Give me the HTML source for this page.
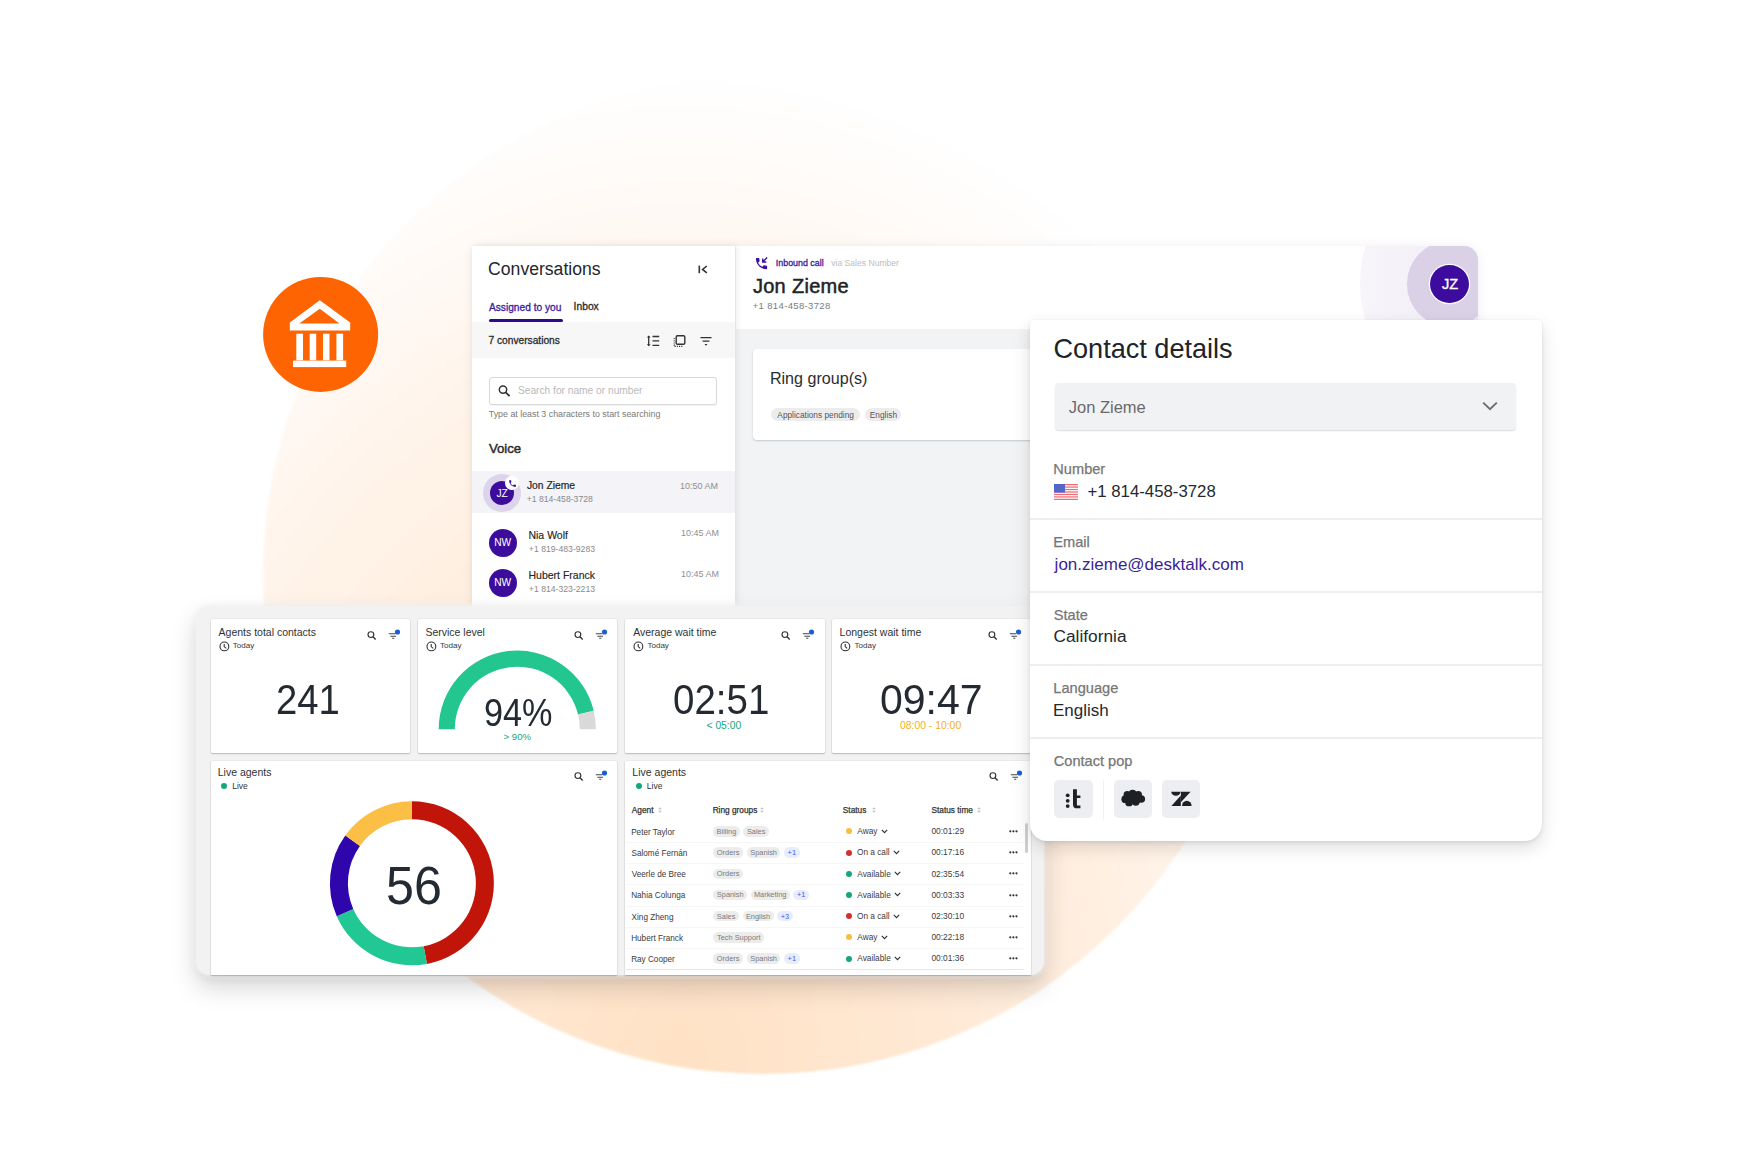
<!DOCTYPE html>
<html><head><meta charset="utf-8"><style>
html,body{margin:0;padding:0;background:#fff;}
body{width:1740px;height:1160px;position:relative;overflow:hidden;font-family:"Liberation Sans",sans-serif;}
.t{position:absolute;line-height:1;white-space:nowrap;}
.b{position:absolute;}
</style></head><body>
<div class="b" style="left:263px;top:74px;width:1000px;height:1000px;border-radius:50%;filter:blur(1.2px);background:radial-gradient(ellipse 75% 100% at 42% 100%,#ffe2c5 0%,#ffe8d3 30%,#ffefe0 56%,#fff5ec 76%,#fffbf8 90%,#ffffff 100%);"></div>
<svg class="b" style="left:0;top:0" width="1740" height="1160" viewBox="0 0 1740 1160"><circle cx="320.6" cy="334.4" r="57.5" fill="#fe6502"/><path fill="#fff" fill-rule="evenodd" d="M289.8 322.6 L319.8 300.3 L350.2 322.6 L350.2 330.5 L289.8 330.5 Z M299.3 323.6 L339.4 323.6 L319.8 308.8 Z"/><rect x="296.3" y="333.7" width="6.7" height="26.6" fill="#fff"/><rect x="309.7" y="333.7" width="6.5" height="26.6" fill="#fff"/><rect x="323.0" y="333.7" width="6.5" height="26.6" fill="#fff"/><rect x="336.4" y="333.7" width="6.7" height="26.6" fill="#fff"/><rect x="293" y="360.6" width="53.2" height="6.5" fill="#fff"/></svg>
<div class="b" style="left:472px;top:246px;width:1006px;height:360px;background:#f2f3f5;box-shadow:0 1px 12px rgba(0,0,0,0.07);border-radius:2px 14px 0 0;"></div>
<div class="b" style="left:736px;top:246px;width:742px;height:83px;background:#fff;border-radius:0 14px 0 0;overflow:hidden;"></div>
<div class="b" style="left:472px;top:246px;width:263px;height:360px;background:#fff;box-shadow:2px 0 6px rgba(0,0,0,0.08);"></div>
<div class="t" style="left:488.12px;top:260.50px;font-size:17.6px;color:#23272b;">Conversations</div>
<svg class="b" style="left:696px;top:263px" width="14" height="13" viewBox="0 0 14 13"><path d="M3.3 2.6 V10.2" stroke="#333" stroke-width="1.6"/><path d="M10.8 3 L6.6 6.4 L10.8 9.8" stroke="#333" stroke-width="1.6" fill="none"/></svg>
<div class="t" style="left:488.95px;top:302.57px;font-size:10.2px;color:#3a1a9e;-webkit-text-stroke:0.3px #3a1a9e;">Assigned to you</div>
<div class="t" style="left:573.57px;top:302.48px;font-size:10.3px;color:#2a2a2a;-webkit-text-stroke:0.3px #2a2a2a;">Inbox</div>
<div class="b" style="left:488.6px;top:319px;width:74.3px;height:3.4px;background:#2e0b8e;border-radius:2px;"></div>
<div class="b" style="left:472px;top:322px;width:263px;height:36px;background:#f7f7f8;"></div>
<div class="t" style="left:488.49px;top:335.67px;font-size:10.2px;color:#2d2d2d;-webkit-text-stroke:0.3px #2d2d2d;">7 conversations</div>
<svg class="b" style="left:645px;top:333px" width="70" height="16" viewBox="0 0 70 16"><path d="M3.7 3 V12.8" stroke="#333" stroke-width="1.3"/><path d="M1.8 4.6 L3.7 2.6 L5.6 4.6 Z M1.8 11.2 L3.7 13.2 L5.6 11.2 Z" fill="#333"/><path d="M7.5 3.5 H14.2 M7.5 7.9 H14.2 M7.5 12.3 H14.2" stroke="#333" stroke-width="1.3"/><rect x="31.2" y="2.7" width="8.6" height="8.6" rx="1.3" fill="none" stroke="#333" stroke-width="1.4"/><path d="M29.2 5 V13.4 H37.6" fill="none" stroke="#333" stroke-width="1.1" stroke-dasharray="1.1 1.1"/><path d="M55.5 4.6 H66.5 M57.6 8.1 H64.4 M59.9 11.6 H62.1" stroke="#333" stroke-width="1.3"/></svg>
<div class="b" style="left:489px;top:377px;width:228px;height:28px;background:#fff;border:1px solid #d8d8d8;border-radius:3px;box-sizing:border-box;box-shadow:0 1px 1px rgba(0,0,0,0.05);"></div>
<svg class="b" style="left:497px;top:384px" width="15" height="14" viewBox="0 0 15 14"><circle cx="6" cy="5.6" r="3.7" fill="none" stroke="#333" stroke-width="1.5"/><path d="M8.7 8.3 L12.6 12.2" stroke="#333" stroke-width="1.8"/></svg>
<div class="t" style="left:517.94px;top:386.37px;font-size:10.2px;color:#b9b9b9;">Search for name or number</div>
<div class="t" style="left:488.78px;top:409.90px;font-size:8.86px;color:#7a7a7a;">Type at least 3 characters to start searching</div>
<div class="t" style="left:488.93px;top:442.33px;font-size:13.2px;color:#2b2b2b;-webkit-text-stroke:0.45px #2b2b2b;">Voice</div>
<div class="b" style="left:472px;top:470.6px;width:263px;height:42.2px;background:#f4f3f8;"></div>
<div class="b" style="left:483px;top:473.5px;width:38px;height:38px;border-radius:50%;background:#dcd4ea;"></div>
<div class="b" style="left:490px;top:480.5px;width:24px;height:24px;border-radius:50%;background:#3c0c9c;"></div>
<div class="t" style="left:496.42px;top:488.57px;font-size:10.2px;color:#fff;">JZ</div>
<div class="b" style="left:505px;top:476px;width:14px;height:14px;border-radius:50%;background:#fff;"></div>
<svg class="b" style="left:507.5px;top:478.5px" width="9" height="9" viewBox="0 0 24 24"><path fill="#3c0c9c" d="M6.62 10.79c1.44 2.83 3.76 5.14 6.59 6.59l2.2-2.2c.27-.27.67-.36 1.02-.24 1.12.37 2.33.57 3.57.57.55 0 1 .45 1 1V20c0 .55-.45 1-1 1-9.39 0-17-7.61-17-17 0-.55.45-1 1-1h3.5c.55 0 1 .45 1 1 0 1.25.2 2.45.57 3.57.11.35.03.74-.25 1.02l-2.2 2.2z"/></svg>
<div class="t" style="left:526.95px;top:481.28px;font-size:10.3px;color:#262626;-webkit-text-stroke:0.2px #262626;">Jon Zieme</div>
<div class="t" style="left:526.67px;top:494.86px;font-size:8.67px;color:#8a8a8a;">+1 814-458-3728</div>
<div class="t" style="left:680.02px;top:481.90px;font-size:8.98px;color:#8f8f8f;">10:50 AM</div>
<div class="b" style="left:489px;top:529px;width:28px;height:28px;border-radius:50%;background:#3c0c9c;"></div>
<div class="t" style="left:494.13px;top:538.17px;font-size:10.2px;color:#fff;">NW</div>
<div class="t" style="left:528.46px;top:530.21px;font-size:10.5px;color:#262626;-webkit-text-stroke:0.15px #262626;">Nia Wolf</div>
<div class="t" style="left:528.87px;top:544.56px;font-size:8.67px;color:#8a8a8a;">+1 819-483-9283</div>
<div class="t" style="left:681.12px;top:529.40px;font-size:8.98px;color:#8f8f8f;">10:45 AM</div>
<div class="b" style="left:489px;top:569px;width:28px;height:28px;border-radius:50%;background:#3c0c9c;"></div>
<div class="t" style="left:494.13px;top:578.17px;font-size:10.2px;color:#fff;">NW</div>
<div class="t" style="left:528.46px;top:570.31px;font-size:10.5px;color:#262626;-webkit-text-stroke:0.15px #262626;">Hubert Franck</div>
<div class="t" style="left:528.87px;top:584.66px;font-size:8.67px;color:#8a8a8a;">+1 814-323-2213</div>
<div class="t" style="left:681.12px;top:569.50px;font-size:8.98px;color:#8f8f8f;">10:45 AM</div>
<svg class="b" style="left:754px;top:256px" width="15" height="15" viewBox="0 0 24 24"><path fill="#3b12a0" d="M6.62 10.79c1.44 2.83 3.76 5.14 6.59 6.59l2.2-2.2c.27-.27.67-.36 1.02-.24 1.12.37 2.33.57 3.57.57.55 0 1 .45 1 1V20c0 .55-.45 1-1 1-9.39 0-17-7.61-17-17 0-.55.45-1 1-1h3.5c.55 0 1 .45 1 1 0 1.25.2 2.45.57 3.57.11.35.03.74-.25 1.02l-2.2 2.2z"/><path d="M21 2.5 L14.6 8.9 M14 3.8 V9.6 H19.8" stroke="#3b12a0" stroke-width="2.2" fill="none"/></svg>
<div class="t" style="left:775.80px;top:259.17px;font-size:8.9px;color:#3b1aa0;-webkit-text-stroke:0.3px #3b1aa0;">Inbound call</div>
<div class="t" style="left:831.26px;top:259.44px;font-size:8.58px;color:#bdbdbd;">via Sales Number</div>
<div class="t" style="left:752.90px;top:275.97px;font-size:20px;color:#1f2326;-webkit-text-stroke:0.5px #1f2326;letter-spacing:0.3px;">Jon Zieme</div>
<div class="t" style="left:752.73px;top:301.46px;font-size:9.5px;color:#7c7c7c;letter-spacing:0.35px;">+1 814-458-3728</div>
<div class="b" style="left:1340px;top:246px;width:138px;height:83px;overflow:hidden;border-radius:0 14px 0 0;"><div style="position:absolute;left:20px;top:-95px;width:264px;height:264px;border-radius:50%;background:linear-gradient(90deg,#f7f5fa,#f1ecf7 40%);"></div><div style="position:absolute;left:67.1px;top:-4.7px;width:85.4px;height:85.4px;border-radius:50%;background:#dad1e7;"></div></div>
<div class="b" style="left:1430.3px;top:264.6px;width:38.8px;height:38px;border-radius:50%;background:#3d0c9f;box-shadow:0 0 0 1.2px #fff;"></div>
<div class="t" style="left:1442.01px;top:277.24px;font-size:14.6px;color:#fff;-webkit-text-stroke:0.35px #fff;">JZ</div>
<div class="b" style="left:752.8px;top:348.5px;width:290px;height:91.8px;background:#fff;border-radius:4px;box-shadow:0 1px 2px rgba(0,0,0,0.18);"></div>
<div class="t" style="left:769.91px;top:370.47px;font-size:16.1px;color:#2a2d30;">Ring group(s)</div>
<div class="b" style="left:770.6px;top:408.2px;width:89.1px;height:13.3px;background:#ececec;border-radius:7px;"></div>
<div class="t" style="left:777.36px;top:410.57px;font-size:8.3px;color:#555;">Applications pending</div>
<div class="b" style="left:864.7px;top:408.2px;width:36px;height:13.3px;background:#ececec;border-radius:7px;"></div>
<div class="t" style="left:869.84px;top:410.57px;font-size:8.3px;color:#555;">English</div>
<div class="b" style="left:196px;top:606px;width:848px;height:369px;background:#f2f2f3;border-radius:14px;box-shadow:0 0 6px 1px #f3f3f4, 0 12px 26px rgba(0,0,0,0.17), 0 4px 8px rgba(0,0,0,0.07);"></div>
<div class="b" style="left:210.6px;top:619.3px;width:199.5px;height:134px;background:#fff;border-radius:1.5px;box-shadow:0 1px 1.5px rgba(0,0,0,0.22), 0 0 0 0.6px rgba(0,0,0,0.06);"></div>
<div class="b" style="left:417.9px;top:619.3px;width:199.5px;height:134px;background:#fff;border-radius:1.5px;box-shadow:0 1px 1.5px rgba(0,0,0,0.22), 0 0 0 0.6px rgba(0,0,0,0.06);"></div>
<div class="b" style="left:625.2px;top:619.3px;width:199.5px;height:134px;background:#fff;border-radius:1.5px;box-shadow:0 1px 1.5px rgba(0,0,0,0.22), 0 0 0 0.6px rgba(0,0,0,0.06);"></div>
<div class="b" style="left:832.4px;top:619.3px;width:199.5px;height:134px;background:#fff;border-radius:1.5px;box-shadow:0 1px 1.5px rgba(0,0,0,0.22), 0 0 0 0.6px rgba(0,0,0,0.06);"></div>
<div class="t" style="left:218.55px;top:626.71px;font-size:10.5px;color:#2e3236;">Agents total contacts</div>
<svg class="b" style="left:218.6px;top:640.9px" width="11" height="11" viewBox="0 0 11 11"><circle cx="5.4" cy="5.4" r="4.4" fill="none" stroke="#333" stroke-width="1.1"/><path d="M5.2 2.9 V5.6 L7.2 7.3" fill="none" stroke="#333" stroke-width="1.1"/></svg>
<div class="t" style="left:232.80px;top:642.17px;font-size:8.07px;color:#3a3a3a;">Today</div>
<svg class="b" style="left:360.6px;top:624.3px" width="42" height="20" viewBox="0 0 42 20"><circle cx="9.9" cy="10.6" r="2.9" fill="none" stroke="#333" stroke-width="1.15"/><path d="M12 12.7 L14.7 15.4" stroke="#333" stroke-width="1.4"/><path d="M27.8 9.7 H34.2 M29.4 12.2 H35 M31.2 14.3 H33.3" stroke="#444" stroke-width="1.1"/><circle cx="36.5" cy="8" r="2.6" fill="#1a5fd6"/></svg>
<div class="t" style="left:425.43px;top:626.71px;font-size:10.5px;color:#2e3236;">Service level</div>
<svg class="b" style="left:425.9px;top:640.9px" width="11" height="11" viewBox="0 0 11 11"><circle cx="5.4" cy="5.4" r="4.4" fill="none" stroke="#333" stroke-width="1.1"/><path d="M5.2 2.9 V5.6 L7.2 7.3" fill="none" stroke="#333" stroke-width="1.1"/></svg>
<div class="t" style="left:440.10px;top:642.17px;font-size:8.07px;color:#3a3a3a;">Today</div>
<svg class="b" style="left:567.9px;top:624.3px" width="42" height="20" viewBox="0 0 42 20"><circle cx="9.9" cy="10.6" r="2.9" fill="none" stroke="#333" stroke-width="1.15"/><path d="M12 12.7 L14.7 15.4" stroke="#333" stroke-width="1.4"/><path d="M27.8 9.7 H34.2 M29.4 12.2 H35 M31.2 14.3 H33.3" stroke="#444" stroke-width="1.1"/><circle cx="36.5" cy="8" r="2.6" fill="#1a5fd6"/></svg>
<div class="t" style="left:633.15px;top:626.71px;font-size:10.5px;color:#2e3236;">Average wait time</div>
<svg class="b" style="left:633.2px;top:640.9px" width="11" height="11" viewBox="0 0 11 11"><circle cx="5.4" cy="5.4" r="4.4" fill="none" stroke="#333" stroke-width="1.1"/><path d="M5.2 2.9 V5.6 L7.2 7.3" fill="none" stroke="#333" stroke-width="1.1"/></svg>
<div class="t" style="left:647.40px;top:642.17px;font-size:8.07px;color:#3a3a3a;">Today</div>
<svg class="b" style="left:775.2px;top:624.3px" width="42" height="20" viewBox="0 0 42 20"><circle cx="9.9" cy="10.6" r="2.9" fill="none" stroke="#333" stroke-width="1.15"/><path d="M12 12.7 L14.7 15.4" stroke="#333" stroke-width="1.4"/><path d="M27.8 9.7 H34.2 M29.4 12.2 H35 M31.2 14.3 H33.3" stroke="#444" stroke-width="1.1"/><circle cx="36.5" cy="8" r="2.6" fill="#1a5fd6"/></svg>
<div class="t" style="left:839.56px;top:626.71px;font-size:10.5px;color:#2e3236;">Longest wait time</div>
<svg class="b" style="left:840.4px;top:640.9px" width="11" height="11" viewBox="0 0 11 11"><circle cx="5.4" cy="5.4" r="4.4" fill="none" stroke="#333" stroke-width="1.1"/><path d="M5.2 2.9 V5.6 L7.2 7.3" fill="none" stroke="#333" stroke-width="1.1"/></svg>
<div class="t" style="left:854.60px;top:642.17px;font-size:8.07px;color:#3a3a3a;">Today</div>
<svg class="b" style="left:982.4px;top:624.3px" width="42" height="20" viewBox="0 0 42 20"><circle cx="9.9" cy="10.6" r="2.9" fill="none" stroke="#333" stroke-width="1.15"/><path d="M12 12.7 L14.7 15.4" stroke="#333" stroke-width="1.4"/><path d="M27.8 9.7 H34.2 M29.4 12.2 H35 M31.2 14.3 H33.3" stroke="#444" stroke-width="1.1"/><circle cx="36.5" cy="8" r="2.6" fill="#1a5fd6"/></svg>
<div class="t" style="left:275.54px;top:678.40px;font-size:43px;color:#232a31;transform:scaleX(0.89);transform-origin:0 0;">241</div>
<svg class="b" style="left:418px;top:619px" width="200" height="134" viewBox="418 619 200 134"><path d="M438.7 729.2 A78.6 78.6 0 0 1 593.7 710.7 L578.05 714.5 A62.5 62.5 0 0 0 454.8 729.2 Z" fill="#23c68e"/><path d="M593.7 710.7 A78.6 78.6 0 0 1 595.9 729.2 L579.8 729.2 A62.5 62.5 0 0 0 578.05 714.5 Z" fill="#d9d9d9"/></svg>
<div class="t" style="left:483.83px;top:694.03px;font-size:38px;color:#232a31;transform:scaleX(0.9);transform-origin:0 0;">94%</div>
<div class="t" style="left:503.58px;top:732.47px;font-size:9.6px;color:#17a57a;">&gt; 90%</div>
<div class="t" style="left:673.29px;top:678.40px;font-size:43px;color:#232a31;transform:scaleX(0.895);transform-origin:0 0;">02:51</div>
<div class="t" style="left:706.52px;top:721.08px;font-size:10.3px;color:#17a57a;">&lt; 05:00</div>
<div class="t" style="left:880.18px;top:678.30px;font-size:43px;color:#232a31;transform:scaleX(0.953);transform-origin:0 0;">09:47</div>
<div class="t" style="left:899.95px;top:720.80px;font-size:10.4px;color:#f4b026;">08:00 - 10:00</div>
<div class="b" style="left:210.6px;top:760.6px;width:406.8px;height:214.1px;background:#fff;border-radius:1.5px;box-shadow:0 1px 1.5px rgba(0,0,0,0.22), 0 0 0 0.6px rgba(0,0,0,0.06);border-radius:1.5px 1.5px 0 0;"></div>
<div class="b" style="left:625.2px;top:760.6px;width:406px;height:214.1px;background:#fff;border-radius:1.5px;box-shadow:0 1px 1.5px rgba(0,0,0,0.22), 0 0 0 0.6px rgba(0,0,0,0.06);border-radius:1.5px 1.5px 0 0;"></div>
<div class="t" style="left:217.76px;top:766.81px;font-size:10.5px;color:#2e3236;">Live agents</div>
<div class="b" style="left:221.1px;top:782.8px;width:6.2px;height:6.2px;border-radius:50%;background:#12a87a;"></div>
<div class="t" style="left:232.22px;top:782.10px;font-size:8.5px;color:#333;">Live</div>
<svg class="b" style="left:567.9px;top:764.6px" width="42" height="20" viewBox="0 0 42 20"><circle cx="9.9" cy="10.6" r="2.9" fill="none" stroke="#333" stroke-width="1.15"/><path d="M12 12.7 L14.7 15.4" stroke="#333" stroke-width="1.4"/><path d="M27.8 9.7 H34.2 M29.4 12.2 H35 M31.2 14.3 H33.3" stroke="#444" stroke-width="1.1"/><circle cx="36.5" cy="8" r="2.6" fill="#1a5fd6"/></svg>
<div class="t" style="left:632.36px;top:766.81px;font-size:10.5px;color:#2e3236;">Live agents</div>
<div class="b" style="left:635.7px;top:782.8px;width:6.2px;height:6.2px;border-radius:50%;background:#12a87a;"></div>
<div class="t" style="left:646.82px;top:782.10px;font-size:8.5px;color:#333;">Live</div>
<svg class="b" style="left:982.5px;top:764.6px" width="42" height="20" viewBox="0 0 42 20"><circle cx="9.9" cy="10.6" r="2.9" fill="none" stroke="#333" stroke-width="1.15"/><path d="M12 12.7 L14.7 15.4" stroke="#333" stroke-width="1.4"/><path d="M27.8 9.7 H34.2 M29.4 12.2 H35 M31.2 14.3 H33.3" stroke="#444" stroke-width="1.1"/><circle cx="36.5" cy="8" r="2.6" fill="#1a5fd6"/></svg>
<svg class="b" style="left:0;top:0" width="1740" height="1160" viewBox="0 0 1740 1160"><path d="M411.90 801.30 A82 82 0 0 1 426.98 963.90 L423.67 946.21 A64 64 0 0 0 411.90 819.30 Z" fill="#c21509"/><path d="M426.98 963.90 A82 82 0 0 1 336.76 916.13 L353.25 908.92 A64 64 0 0 0 423.67 946.21 Z" fill="#22c894"/><path d="M336.76 916.13 A82 82 0 0 1 345.31 835.45 L359.93 845.95 A64 64 0 0 0 353.25 908.92 Z" fill="#2e06ab"/><path d="M345.31 835.45 A82 82 0 0 1 411.90 801.30 L411.90 819.30 A64 64 0 0 0 359.93 845.95 Z" fill="#fbbf45"/></svg>
<div class="t" style="left:386.05px;top:858.29px;font-size:54px;color:#232a31;transform:scaleX(0.93);transform-origin:0 0;">56</div>
<div class="t" style="left:631.76px;top:806.07px;font-size:8.3px;color:#333;-webkit-text-stroke:0.25px #333;">Agent</div>
<div class="t" style="left:712.64px;top:806.07px;font-size:8.3px;color:#333;-webkit-text-stroke:0.25px #333;">Ring groups</div>
<div class="t" style="left:842.83px;top:806.07px;font-size:8.3px;color:#333;-webkit-text-stroke:0.25px #333;">Status</div>
<div class="t" style="left:931.43px;top:806.07px;font-size:8.3px;color:#333;-webkit-text-stroke:0.25px #333;">Status time</div>
<svg class="b" style="left:657px;top:806px" width="6" height="8" viewBox="0 0 6 8"><path d="M1 3.2 L3 1.2 L5 3.2 Z M1 4.8 L3 6.8 L5 4.8 Z" fill="#c4c4c4"/></svg>
<svg class="b" style="left:758.5px;top:806px" width="6" height="8" viewBox="0 0 6 8"><path d="M1 3.2 L3 1.2 L5 3.2 Z M1 4.8 L3 6.8 L5 4.8 Z" fill="#c4c4c4"/></svg>
<svg class="b" style="left:870.5px;top:806px" width="6" height="8" viewBox="0 0 6 8"><path d="M1 3.2 L3 1.2 L5 3.2 Z M1 4.8 L3 6.8 L5 4.8 Z" fill="#c4c4c4"/></svg>
<svg class="b" style="left:975.5px;top:806px" width="6" height="8" viewBox="0 0 6 8"><path d="M1 3.2 L3 1.2 L5 3.2 Z M1 4.8 L3 6.8 L5 4.8 Z" fill="#c4c4c4"/></svg>
<div class="t" style="left:631.14px;top:828.76px;font-size:8.2px;color:#3a3a3a;">Peter Taylor</div>
<div class="b" style="left:713.3px;top:826.1999999999999px;width:26.4px;height:10.4px;background:#ececec;border-radius:5.2px;"></div>
<div class="t" style="left:716.61px;top:827.84px;font-size:7.4px;color:#7a7a7a;">Billing</div>
<div class="b" style="left:743.348px;top:826.1999999999999px;width:25.7px;height:10.4px;background:#ececec;border-radius:5.2px;"></div>
<div class="t" style="left:746.91px;top:827.84px;font-size:7.4px;color:#7a7a7a;">Sales</div>
<div class="b" style="left:845.9px;top:828.4px;width:6px;height:6px;border-radius:50%;background:#f6bf3e;"></div>
<div class="t" style="left:857.26px;top:827.27px;font-size:8.3px;color:#3c3c3c;">Away</div>
<svg class="b" style="left:880.8px;top:828.8px" width="7" height="5" viewBox="0 0 7 5"><path d="M0.8 0.8 L3.5 3.6 L6.2 0.8" fill="none" stroke="#333" stroke-width="1.2"/></svg>
<div class="t" style="left:931.46px;top:827.19px;font-size:8.4px;color:#3c3c3c;">00:01:29</div>
<svg class="b" style="left:1009px;top:829.9px" width="9" height="3" viewBox="0 0 9 3"><circle cx="1.3" cy="1.3" r="1.1" fill="#333"/><circle cx="4.4" cy="1.3" r="1.1" fill="#333"/><circle cx="7.5" cy="1.3" r="1.1" fill="#333"/></svg>
<div class="b" style="left:626px;top:842.0px;width:398px;height:1px;background:#f6f6f7;"></div>
<div class="t" style="left:631.43px;top:849.96px;font-size:8.2px;color:#3a3a3a;">Salomé Fernán</div>
<div class="b" style="left:713.3px;top:847.4px;width:29.8px;height:10.4px;background:#ececec;border-radius:5.2px;"></div>
<div class="t" style="left:716.87px;top:849.04px;font-size:7.4px;color:#7a7a7a;">Orders</div>
<div class="b" style="left:746.7149999999999px;top:847.4px;width:33.7px;height:10.4px;background:#ececec;border-radius:5.2px;"></div>
<div class="t" style="left:750.28px;top:849.04px;font-size:7.4px;color:#7a7a7a;">Spanish</div>
<div class="b" style="left:784.0519999999999px;top:847.4px;width:15.5px;height:10.4px;background:#e9ecfb;border-radius:5.2px;"></div>
<div class="t" style="left:787.58px;top:849.04px;font-size:7.4px;color:#3d5ae8;">+1</div>
<div class="b" style="left:845.9px;top:849.6px;width:6px;height:6px;border-radius:50%;background:#d3302f;"></div>
<div class="t" style="left:856.93px;top:848.47px;font-size:8.3px;color:#3c3c3c;">On a call</div>
<svg class="b" style="left:892.6px;top:850.0px" width="7" height="5" viewBox="0 0 7 5"><path d="M0.8 0.8 L3.5 3.6 L6.2 0.8" fill="none" stroke="#333" stroke-width="1.2"/></svg>
<div class="t" style="left:931.46px;top:848.39px;font-size:8.4px;color:#3c3c3c;">00:17:16</div>
<svg class="b" style="left:1009px;top:851.1px" width="9" height="3" viewBox="0 0 9 3"><circle cx="1.3" cy="1.3" r="1.1" fill="#333"/><circle cx="4.4" cy="1.3" r="1.1" fill="#333"/><circle cx="7.5" cy="1.3" r="1.1" fill="#333"/></svg>
<div class="b" style="left:626px;top:863.1999999999999px;width:398px;height:1px;background:#f6f6f7;"></div>
<div class="t" style="left:631.76px;top:871.16px;font-size:8.2px;color:#3a3a3a;">Veerle de Bree</div>
<div class="b" style="left:713.3px;top:868.5999999999999px;width:29.8px;height:10.4px;background:#ececec;border-radius:5.2px;"></div>
<div class="t" style="left:716.87px;top:870.24px;font-size:7.4px;color:#7a7a7a;">Orders</div>
<div class="b" style="left:845.9px;top:870.8px;width:6px;height:6px;border-radius:50%;background:#12a87a;"></div>
<div class="t" style="left:857.26px;top:869.67px;font-size:8.3px;color:#3c3c3c;">Available</div>
<svg class="b" style="left:893.9px;top:871.2px" width="7" height="5" viewBox="0 0 7 5"><path d="M0.8 0.8 L3.5 3.6 L6.2 0.8" fill="none" stroke="#333" stroke-width="1.2"/></svg>
<div class="t" style="left:931.46px;top:869.59px;font-size:8.4px;color:#3c3c3c;">02:35:54</div>
<svg class="b" style="left:1009px;top:872.3px" width="9" height="3" viewBox="0 0 9 3"><circle cx="1.3" cy="1.3" r="1.1" fill="#333"/><circle cx="4.4" cy="1.3" r="1.1" fill="#333"/><circle cx="7.5" cy="1.3" r="1.1" fill="#333"/></svg>
<div class="b" style="left:626px;top:884.4px;width:398px;height:1px;background:#f6f6f7;"></div>
<div class="t" style="left:631.14px;top:892.36px;font-size:8.2px;color:#3a3a3a;">Nahia Colunga</div>
<div class="b" style="left:713.3px;top:889.8px;width:33.7px;height:10.4px;background:#ececec;border-radius:5.2px;"></div>
<div class="t" style="left:716.87px;top:891.44px;font-size:7.4px;color:#7a7a7a;">Spanish</div>
<div class="b" style="left:750.637px;top:889.8px;width:39.2px;height:10.4px;background:#ececec;border-radius:5.2px;"></div>
<div class="t" style="left:753.94px;top:891.44px;font-size:7.4px;color:#7a7a7a;">Marketing</div>
<div class="b" style="left:793.4499999999999px;top:889.8px;width:15.5px;height:10.4px;background:#e9ecfb;border-radius:5.2px;"></div>
<div class="t" style="left:796.98px;top:891.44px;font-size:7.4px;color:#3d5ae8;">+1</div>
<div class="b" style="left:845.9px;top:892.0px;width:6px;height:6px;border-radius:50%;background:#12a87a;"></div>
<div class="t" style="left:857.26px;top:890.87px;font-size:8.3px;color:#3c3c3c;">Available</div>
<svg class="b" style="left:893.9px;top:892.4px" width="7" height="5" viewBox="0 0 7 5"><path d="M0.8 0.8 L3.5 3.6 L6.2 0.8" fill="none" stroke="#333" stroke-width="1.2"/></svg>
<div class="t" style="left:931.46px;top:890.79px;font-size:8.4px;color:#3c3c3c;">00:03:33</div>
<svg class="b" style="left:1009px;top:893.5px" width="9" height="3" viewBox="0 0 9 3"><circle cx="1.3" cy="1.3" r="1.1" fill="#333"/><circle cx="4.4" cy="1.3" r="1.1" fill="#333"/><circle cx="7.5" cy="1.3" r="1.1" fill="#333"/></svg>
<div class="b" style="left:626px;top:905.5999999999999px;width:398px;height:1px;background:#f6f6f7;"></div>
<div class="t" style="left:631.59px;top:913.56px;font-size:8.2px;color:#3a3a3a;">Xing Zheng</div>
<div class="b" style="left:713.3px;top:910.9999999999999px;width:25.7px;height:10.4px;background:#ececec;border-radius:5.2px;"></div>
<div class="t" style="left:716.87px;top:912.64px;font-size:7.4px;color:#7a7a7a;">Sales</div>
<div class="b" style="left:742.608px;top:910.9999999999999px;width:31.0px;height:10.4px;background:#ececec;border-radius:5.2px;"></div>
<div class="t" style="left:745.92px;top:912.64px;font-size:7.4px;color:#7a7a7a;">English</div>
<div class="b" style="left:777.207px;top:910.9999999999999px;width:15.5px;height:10.4px;background:#e9ecfb;border-radius:5.2px;"></div>
<div class="t" style="left:780.74px;top:912.64px;font-size:7.4px;color:#3d5ae8;">+3</div>
<div class="b" style="left:845.9px;top:913.1999999999999px;width:6px;height:6px;border-radius:50%;background:#d3302f;"></div>
<div class="t" style="left:856.93px;top:912.07px;font-size:8.3px;color:#3c3c3c;">On a call</div>
<svg class="b" style="left:892.6px;top:913.6px" width="7" height="5" viewBox="0 0 7 5"><path d="M0.8 0.8 L3.5 3.6 L6.2 0.8" fill="none" stroke="#333" stroke-width="1.2"/></svg>
<div class="t" style="left:931.46px;top:911.99px;font-size:8.4px;color:#3c3c3c;">02:30:10</div>
<svg class="b" style="left:1009px;top:914.7px" width="9" height="3" viewBox="0 0 9 3"><circle cx="1.3" cy="1.3" r="1.1" fill="#333"/><circle cx="4.4" cy="1.3" r="1.1" fill="#333"/><circle cx="7.5" cy="1.3" r="1.1" fill="#333"/></svg>
<div class="b" style="left:626px;top:926.8px;width:398px;height:1px;background:#f6f6f7;"></div>
<div class="t" style="left:631.14px;top:934.76px;font-size:8.2px;color:#3a3a3a;">Hubert Franck</div>
<div class="b" style="left:713.3px;top:932.1999999999999px;width:51.2px;height:10.4px;background:#ececec;border-radius:5.2px;"></div>
<div class="t" style="left:717.01px;top:933.84px;font-size:7.4px;color:#7a7a7a;">Tech Support</div>
<div class="b" style="left:845.9px;top:934.4px;width:6px;height:6px;border-radius:50%;background:#f6bf3e;"></div>
<div class="t" style="left:857.26px;top:933.27px;font-size:8.3px;color:#3c3c3c;">Away</div>
<svg class="b" style="left:880.8px;top:934.8px" width="7" height="5" viewBox="0 0 7 5"><path d="M0.8 0.8 L3.5 3.6 L6.2 0.8" fill="none" stroke="#333" stroke-width="1.2"/></svg>
<div class="t" style="left:931.46px;top:933.19px;font-size:8.4px;color:#3c3c3c;">00:22:18</div>
<svg class="b" style="left:1009px;top:935.9px" width="9" height="3" viewBox="0 0 9 3"><circle cx="1.3" cy="1.3" r="1.1" fill="#333"/><circle cx="4.4" cy="1.3" r="1.1" fill="#333"/><circle cx="7.5" cy="1.3" r="1.1" fill="#333"/></svg>
<div class="b" style="left:626px;top:947.9999999999999px;width:398px;height:1px;background:#f6f6f7;"></div>
<div class="t" style="left:631.14px;top:955.96px;font-size:8.2px;color:#3a3a3a;">Ray Cooper</div>
<div class="b" style="left:713.3px;top:953.3999999999999px;width:29.8px;height:10.4px;background:#ececec;border-radius:5.2px;"></div>
<div class="t" style="left:716.87px;top:955.04px;font-size:7.4px;color:#7a7a7a;">Orders</div>
<div class="b" style="left:746.7149999999999px;top:953.3999999999999px;width:33.7px;height:10.4px;background:#ececec;border-radius:5.2px;"></div>
<div class="t" style="left:750.28px;top:955.04px;font-size:7.4px;color:#7a7a7a;">Spanish</div>
<div class="b" style="left:784.0519999999999px;top:953.3999999999999px;width:15.5px;height:10.4px;background:#e9ecfb;border-radius:5.2px;"></div>
<div class="t" style="left:787.58px;top:955.04px;font-size:7.4px;color:#3d5ae8;">+1</div>
<div class="b" style="left:845.9px;top:955.5999999999999px;width:6px;height:6px;border-radius:50%;background:#12a87a;"></div>
<div class="t" style="left:857.26px;top:954.47px;font-size:8.3px;color:#3c3c3c;">Available</div>
<svg class="b" style="left:893.9px;top:956.0px" width="7" height="5" viewBox="0 0 7 5"><path d="M0.8 0.8 L3.5 3.6 L6.2 0.8" fill="none" stroke="#333" stroke-width="1.2"/></svg>
<div class="t" style="left:931.46px;top:954.39px;font-size:8.4px;color:#3c3c3c;">00:01:36</div>
<svg class="b" style="left:1009px;top:957.1px" width="9" height="3" viewBox="0 0 9 3"><circle cx="1.3" cy="1.3" r="1.1" fill="#333"/><circle cx="4.4" cy="1.3" r="1.1" fill="#333"/><circle cx="7.5" cy="1.3" r="1.1" fill="#333"/></svg>
<div class="b" style="left:626px;top:969px;width:398px;height:1px;background:#e6e6e6;"></div>
<div class="b" style="left:1024.6px;top:822.7px;width:3.4px;height:30px;background:#cfcfcf;border-radius:2px;"></div>
<div class="b" style="left:1030px;top:319.5px;width:512px;height:521.5px;background:#fff;border-radius:4px 4px 17px 17px;box-shadow:0 7px 18px rgba(0,0,0,0.13), 0 2px 4px rgba(0,0,0,0.07), 0 0 3px rgba(0,0,0,0.04);"></div>
<div class="t" style="left:1053.44px;top:335.36px;font-size:27.1px;color:#202428;">Contact details</div>
<div class="b" style="left:1054.5px;top:383px;width:461.5px;height:47px;background:#f1f2f4;border-radius:4px;box-shadow:0 1px 1.5px rgba(0,0,0,0.14);"></div>
<div class="t" style="left:1068.75px;top:398.83px;font-size:16.5px;color:#6a6a6a;">Jon Zieme</div>
<svg class="b" style="left:1481px;top:400px" width="18" height="13" viewBox="0 0 18 13"><path d="M2.2 2.6 L9 9.2 L15.8 2.6" fill="none" stroke="#6f6f6f" stroke-width="2"/></svg>
<div class="t" style="left:1053.33px;top:462.44px;font-size:14.6px;color:#767676;-webkit-text-stroke:0.25px #767676;">Number</div>
<div class="t" style="left:1053.33px;top:535.24px;font-size:14.6px;color:#767676;-webkit-text-stroke:0.25px #767676;">Email</div>
<div class="t" style="left:1053.84px;top:608.44px;font-size:14.6px;color:#767676;-webkit-text-stroke:0.25px #767676;">State</div>
<div class="t" style="left:1053.33px;top:680.94px;font-size:14.6px;color:#767676;-webkit-text-stroke:0.25px #767676;">Language</div>
<div class="t" style="left:1053.77px;top:753.84px;font-size:14.6px;color:#767676;-webkit-text-stroke:0.25px #767676;">Contact pop</div>
<div class="b" style="left:1030px;top:517.6px;width:512px;height:2px;background:#eeeeee;"></div>
<div class="b" style="left:1030px;top:590.7px;width:512px;height:2px;background:#eeeeee;"></div>
<div class="b" style="left:1030px;top:663.7px;width:512px;height:2px;background:#eeeeee;"></div>
<div class="b" style="left:1030px;top:737px;width:512px;height:2px;background:#eeeeee;"></div>
<svg class="b" style="left:1054.2px;top:483.9px" width="24" height="16" viewBox="0 0 24 16"><rect width="24" height="16" fill="#fff"/><rect y="0.000" width="24" height="1.231" fill="#ee6c74"/><rect y="2.462" width="24" height="1.231" fill="#ee6c74"/><rect y="4.923" width="24" height="1.231" fill="#ee6c74"/><rect y="7.385" width="24" height="1.231" fill="#ee6c74"/><rect y="9.846" width="24" height="1.231" fill="#ee6c74"/><rect y="12.308" width="24" height="1.231" fill="#ee6c74"/><rect y="14.769" width="24" height="1.231" fill="#ee6c74"/><rect width="11" height="8.6" fill="#5566c8"/></svg>
<div class="t" style="left:1087.46px;top:483.68px;font-size:16.8px;color:#25292d;">+1 814-458-3728</div>
<div class="t" style="left:1054.62px;top:555.91px;font-size:17.0px;color:#3a1f96;">jon.zieme@desktalk.com</div>
<div class="t" style="left:1053.54px;top:628.36px;font-size:17.3px;color:#25292d;">California</div>
<div class="t" style="left:1053.04px;top:701.91px;font-size:17.0px;color:#25292d;">English</div>
<div class="b" style="left:1054.3px;top:780.3px;width:38.5px;height:37.5px;background:#eceef1;border-radius:5px;"></div>
<div class="b" style="left:1113.9px;top:780.3px;width:38.5px;height:37.5px;background:#eceef1;border-radius:5px;"></div>
<div class="b" style="left:1161.8px;top:780.3px;width:38.5px;height:37.5px;background:#eceef1;border-radius:5px;"></div>
<div class="b" style="left:1103.2px;top:780px;width:1px;height:40px;background:#eef0f2;"></div>
<svg class="b" style="left:1054.3px;top:780.3px" width="38.5" height="37.5" viewBox="0 0 38.5 37.5"><circle cx="13.7" cy="15.3" r="1.9" fill="#1d2125"/><circle cx="13.7" cy="20.8" r="1.9" fill="#1d2125"/><circle cx="13.7" cy="26.1" r="1.9" fill="#1d2125"/><path d="M19 9.2 H22.9 V15.6 H26.4 V18 H22.9 V24.4 C22.9 25.2 23.3 25.6 24.1 25.6 H26.4 V28.3 H23.2 C20.4 28.3 19 27 19 24.4 Z" fill="#1d2125"/></svg>
<svg class="b" style="left:1113.9px;top:780.3px" width="38.5" height="37.5" viewBox="0 0 38.5 37.5"><g fill="#1d2125"><circle cx="13.2" cy="14.6" r="3.6"/><circle cx="18.6" cy="13.6" r="3.9"/><circle cx="24.2" cy="14.9" r="3.8"/><circle cx="27.3" cy="19" r="3.8"/><circle cx="21.8" cy="21.6" r="4.2"/><circle cx="15.1" cy="22.4" r="3.9"/><circle cx="11.3" cy="19.2" r="3.9"/><rect x="12" y="15" width="15" height="7"/></g></svg>
<svg class="b" style="left:1161.8px;top:780.3px" width="38.5" height="37.5" viewBox="0 0 38.5 37.5"><g fill="#1d2125"><path d="M9.2 11.7 H18.6 A4.7 4.1 0 0 1 9.2 11.7 Z"/><path d="M20.2 11.7 H29.8 L19.8 22.6 Z" transform="translate(-1.2 0)"/><path d="M9.4 26.0 L18.8 15.5 V26.0 Z"/><path d="M20.0 26.0 A4.8 5.2 0 0 1 29.6 26.0 Z"/></g></svg>
</body></html>
